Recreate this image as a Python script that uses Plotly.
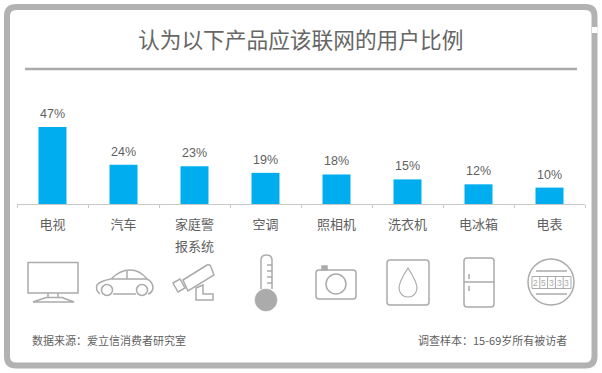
import plotly.graph_objects as go
import re

W, H = 602, 373
categories = ["电视", "汽车", "家庭警报系统", "空调", "照相机", "洗衣机", "电冰箱", "电表"]
tick_labels = ["电视", "汽车", "家庭警", "空调", "照相机", "洗衣机", "电冰箱", "电表"]
values = [47, 24, 23, 19, 18, 15, 12, 10]
title = "认为以下产品应该联网的用户比例"
source = "数据来源：爱立信消费者研究室"
sample = "调查样本：15-69岁所有被访者"

GRAY = "#ababab"
TEXT = "#5f5f5f"
CJK = "Noto Sans CJK SC"

def fx(x): return x / W
def fy(y): return 1 - y / H

def conv(path):
    toks = re.findall(r"[A-Za-z]|-?\d+\.?\d*", path)
    out, is_x = [], True
    for t in toks:
        if t.isalpha():
            out.append(t); is_x = True
        else:
            out.append(f"{fx(float(t)):.5f}" if is_x else f"{fy(float(t)):.5f}")
            is_x = not is_x
    return " ".join(out)

shapes = []
def P(path, width=1.5, color=GRAY, fill="rgba(0,0,0,0)", layer="below"):
    shapes.append(dict(type="path", xref="paper", yref="paper", path=conv(path),
                       line=dict(color=color, width=width), fillcolor=fill, layer=layer))

def rrect(x0, y0, x1, y1, r):
    return (f"M {x0+r} {y0} L {x1-r} {y0} Q {x1} {y0} {x1} {y0+r} L {x1} {y1-r} Q {x1} {y1} {x1-r} {y1} "
            f"L {x0+r} {y1} Q {x0} {y1} {x0} {y1-r} L {x0} {y0+r} Q {x0} {y0} {x0+r} {y0} Z")

def circle(cx, cy, r):
    k = r * 0.5523
    return (f"M {cx-r} {cy} C {cx-r} {cy-k} {cx-k} {cy-r} {cx} {cy-r} C {cx+k} {cy-r} {cx+r} {cy-k} {cx+r} {cy} "
            f"C {cx+r} {cy+k} {cx+k} {cy+r} {cx} {cy+r} C {cx-k} {cy+r} {cx-r} {cy+k} {cx-r} {cy} Z")

# frame and title rule
P(rrect(7, 7, 594.5, 365.5, 9), width=6, color="#b2b2b2")
P("M 592 27 L 597.5 27 L 597.5 33 L 592 33 Z", width=0, color="#ffffff", fill="#ffffff")
P("M 25 69 L 577 69", width=2.5)

# TV
P("M 28 262.5 L 78 262.5 L 78 293 L 28 293 Z")
P("M 48 293 L 48 298 M 58 293 L 58 298")
P("M 33 302 L 46 297.5 L 62 297.5 L 74 302 Z")
# car
P("M 100 294 Q 95 290 97 285 Q 100 281 111 279 Q 120 270 130 270 Q 140 270 147 279 Q 153 282 153 288 Q 152 293 148 294 "
  "M 113 294 L 136 294 M 112 279 L 147 279 M 127 271 L 127 279")
P(circle(107, 290, 5.5)); P(circle(142, 290, 5.5))
# security camera
P("M 183 280 L 207 265 Q 210 264 211 267 L 214 275 L 188 291 Z")
P("M 173 283 L 180 279 L 185 288 L 178 292 Z")
P("M 196 288 L 203 285 L 203 294 L 213 294 L 213 300 L 196 300 Z")
# thermometer
P("M 261 289 L 261 260 Q 261 255 266.5 255 Q 272 255 272 260 L 272 289")
P(circle(266, 300, 11), fill=GRAY, width=0.5)
P("M 267 265 L 272 265 M 267 271 L 272 271 M 267 277 L 272 277 M 267 283 L 272 283")
# camera
P(rrect(316, 270, 356, 299, 3)); P(circle(336, 284, 10))
P("M 322 270 L 322 266 L 327 266 L 327 270 Z", fill=GRAY)
# washer / drop
P(rrect(387, 260, 429, 305, 3))
P("M 408 268 Q 417 282 417 288 Q 416 297 408 297 Q 400 297 399 288 Q 399 282 408 268 Z", width=1.2)
# fridge
P(rrect(464, 258, 494, 307, 3))
P("M 464 282 L 494 282 M 469 274 L 469 279 M 469 286 L 469 291")
# meter
P(circle(551, 282, 23))
P("M 536 271 L 567 271 M 536 294 L 567 294")
P("M 532 276.5 L 571 276.5 L 571 288.5 L 532 288.5 Z "
  "M 539.8 276.5 L 539.8 288.5 M 547.6 276.5 L 547.6 288.5 M 555.4 276.5 L 555.4 288.5 M 563.2 276.5 L 563.2 288.5", width=1)

def T(text, x, y, size, color=TEXT, family=CJK, anchor="center"):
    return dict(text=text, x=fx(x), y=fy(y), xref="paper", yref="paper", showarrow=False,
                xanchor=anchor, yanchor="middle", font=dict(size=size, color=color, family=family))

annotations = [
    T(title, 300.5, 39, 21.7, color="#666666"),
    T("报系统", 194.5, 245.5, 13),
    T(source, 30, 340, 11, anchor="left"),
    T(sample, 569, 340, 11, anchor="right"),
] + [
    T(ch, 535.7 + 7.8 * i, 282.5, 8.5, color=GRAY, family="Liberation Sans")
    for i, ch in enumerate("25333")
] + [
    dict(x=c, y=v, xref="x", yref="y", text=f"{v}%", showarrow=False, yshift=13,
         xanchor="center", yanchor="middle",
         font=dict(size=12.5, color=TEXT, family="Liberation Sans"))
    for c, v in zip(categories, values)
]

fig = go.Figure(go.Bar(
    x=categories, y=values, marker=dict(color="#00aeef", line_width=0),
))
fig.update_layout(
    width=W, height=H, margin=dict(l=0, r=0, t=0, b=0), autosize=False,
    paper_bgcolor="white", plot_bgcolor="white", showlegend=False, bargap=0.606,
    shapes=shapes, annotations=annotations,
    xaxis=dict(domain=[17 / W, 585 / W], tickmode="array", tickvals=categories, ticktext=tick_labels,
               tickson="boundaries", ticks="outside", ticklen=3, tickcolor="#c8c8c8",
               showline=True, linecolor="#c8c8c8", linewidth=1, showgrid=False,
               tickfont=dict(size=13, color=TEXT, family=CJK), ticklabelstandoff=8),
    yaxis=dict(domain=[1 - 204 / H, 1 - 60 / H], range=[0, 87.8], visible=False),
)
fig.write_html("out.html", config={"displayModeBar": False},
               post_script="document.body.style.margin='0';")
